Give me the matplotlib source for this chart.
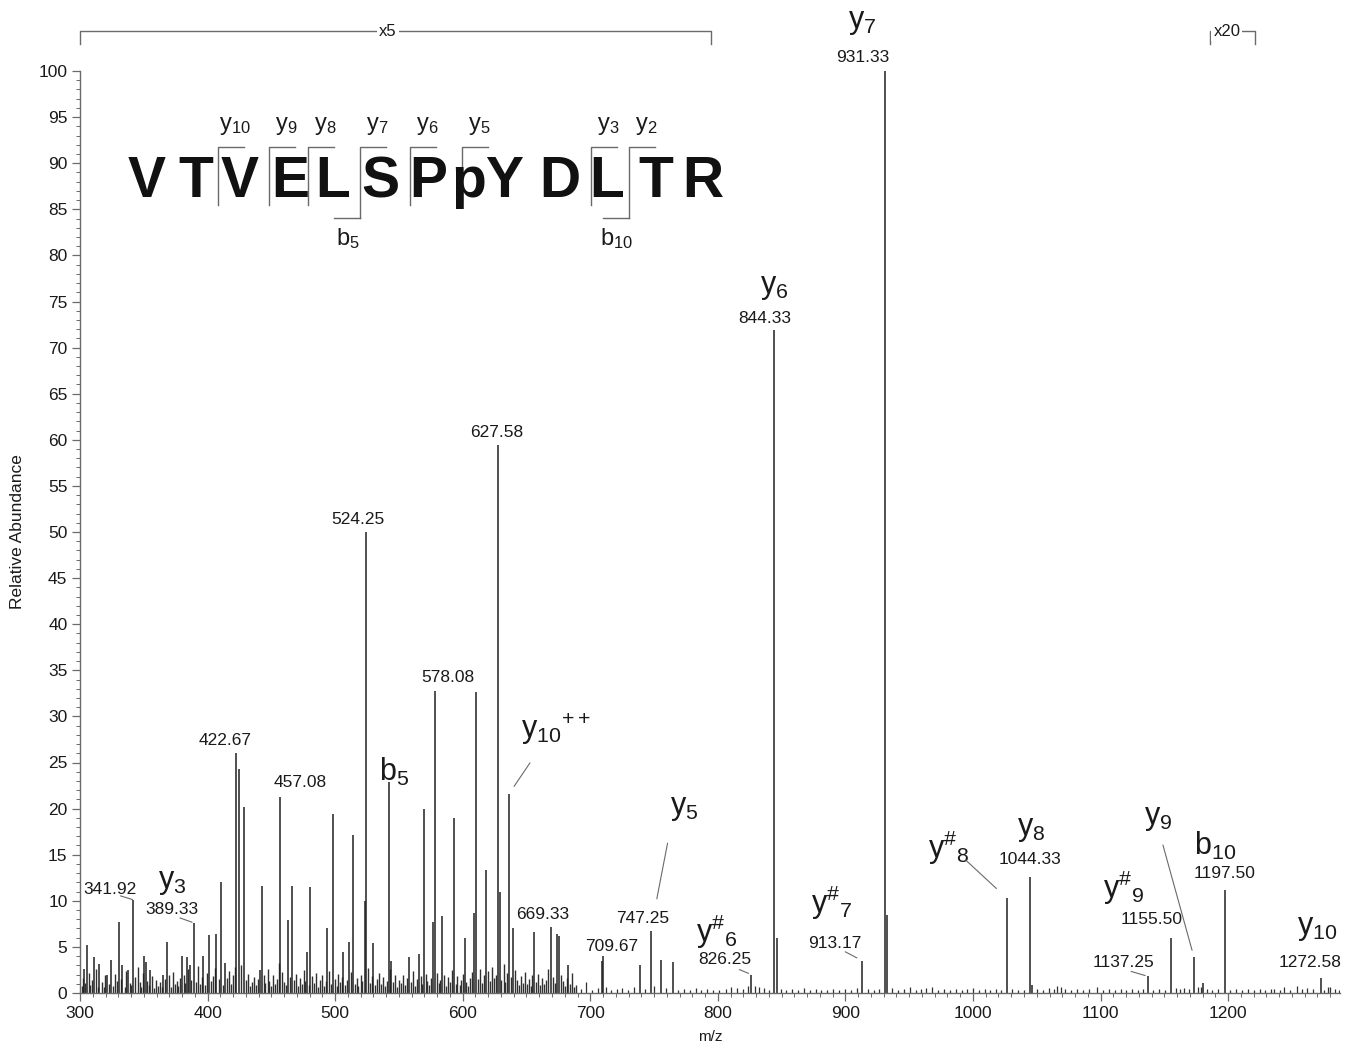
import matplotlib
matplotlib.use("Agg")
import matplotlib.pyplot as plt
from matplotlib.ticker import MultipleLocator

plt.rcParams['font.family'] = ['Liberation Sans', 'DejaVu Sans']
plt.rcParams['mathtext.fontset'] = 'custom'
plt.rcParams['mathtext.rm'] = 'Liberation Sans'
plt.rcParams['mathtext.it'] = 'Liberation Sans'
plt.rcParams['mathtext.bf'] = 'Liberation Sans:bold'

TXT = '#1a1a1a'
GREY = '#6a6a6a'

# ---- spectrum: main peaks (m/z, relative abundance) ----
peak_mz = [303.0, 305.2, 311.0, 315.0, 321.0, 324.0, 330.3, 333.0, 337.6, 341.92,
           350.0, 351.7, 355.0, 365.0, 368.4, 379.7, 383.6, 386.0, 389.33, 396.7,
           401.0, 407.0, 410.3, 413.7, 422.67, 424.9, 428.8, 441.0, 442.4, 457.08,
           462.8, 466.0, 478.0, 480.3, 493.4, 498.0, 506.4, 511.0, 513.7, 523.2,
           524.25, 530.0, 541.9, 544.0, 558.0, 565.5, 569.3, 576.5, 578.08, 583.8,
           592.9, 601.5, 609.1, 610.6, 618.5, 627.58, 628.9, 636.3, 639.3, 656.2,
           669.33, 673.7, 675.5, 682.8, 708.9, 709.67, 738.8, 747.25, 755.7, 764.8,
           826.25, 844.33, 846.0, 913.17, 931.33, 932.5, 1026.4, 1044.33, 1046.0,
           1137.25, 1155.5, 1173.2, 1180.0, 1197.5, 1272.58]
peak_int = [2.6, 5.2, 3.9, 3.1, 2.0, 3.6, 7.7, 3.0, 2.5, 10.1,
            4.0, 3.4, 2.5, 2.0, 5.5, 4.0, 3.9, 3.0, 7.6, 4.0,
            6.3, 6.4, 12.0, 3.3, 26.0, 24.3, 20.2, 2.5, 11.6, 21.3,
            7.9, 11.6, 4.5, 11.5, 7.0, 19.4, 4.4, 5.5, 17.1, 10.0,
            50.0, 5.4, 22.9, 3.5, 3.9, 4.2, 20.0, 7.7, 32.8, 8.3,
            19.0, 6.0, 8.7, 32.6, 13.3, 59.4, 11.0, 21.6, 7.0, 6.6,
            7.2, 6.4, 6.2, 3.0, 3.5, 4.0, 3.0, 6.7, 3.6, 3.4,
            2.0, 71.9, 6.0, 3.5, 100.0, 8.5, 10.3, 12.6, 0.9,
            1.8, 6.0, 3.9, 1.1, 11.2, 1.6]

# ---- low-level signal ----
grass_mz = [301.5, 302.2, 304.1, 306.8, 307.9, 309.3, 312.6, 313.8, 317.2, 318.5,
            319.9, 322.7, 326.1, 327.4, 328.8, 331.9, 335.2, 336.4, 339.0, 340.3,
            343.5, 345.1, 346.7, 348.2, 349.1, 352.9, 354.0, 356.6, 358.1, 359.7,
            361.2, 362.8, 364.0, 366.5, 369.9, 371.4, 372.8, 374.3, 375.9, 377.1,
            378.5, 381.2, 382.4, 385.0, 387.4, 390.8, 392.3, 393.9, 395.4, 398.2,
            399.6, 402.5, 404.0, 405.5, 408.6, 411.8, 415.2, 416.7, 418.3, 419.8,
            421.3, 426.4, 430.5, 432.0, 433.6, 435.1, 436.7, 438.2, 439.6, 443.9,
            445.4, 447.0, 448.5, 450.1, 451.6, 453.2, 454.6, 456.0, 458.6, 460.1,
            461.5, 464.3, 467.6, 469.2, 470.7, 472.3, 473.8, 475.3, 476.7, 479.2,
            481.9, 483.4, 485.0, 486.6, 488.1, 489.6, 491.2, 492.5, 494.8, 496.4,
            499.5, 501.1, 502.6, 504.0, 505.3, 507.8, 509.4, 512.3, 515.2, 516.8,
            518.3, 519.9, 521.4, 525.8, 527.3, 528.7, 531.5, 533.0, 534.6, 536.1,
            537.6, 539.1, 540.5, 543.0, 545.6, 547.1, 548.6, 550.2, 551.7, 553.3,
            554.8, 556.4, 559.5, 561.0, 562.6, 564.0, 567.1, 568.4, 570.9, 572.4,
            573.9, 575.2, 579.6, 581.1, 582.5, 585.3, 586.8, 588.3, 589.9, 591.4,
            594.4, 595.9, 597.5, 599.0, 600.3, 602.9, 604.4, 606.0, 607.5, 612.1,
            613.6, 615.1, 616.7, 620.0, 621.5, 623.1, 624.6, 626.1, 630.4, 632.0,
            633.5, 634.9, 637.7, 640.8, 642.4, 643.9, 645.5, 647.0, 648.5, 650.1,
            651.6, 653.2, 654.7, 657.7, 659.3, 660.8, 662.4, 663.9, 665.5, 667.0,
            670.8, 672.3, 677.0, 678.6, 680.1, 681.5, 684.3, 685.9, 687.4, 689.0]
grass_int = [0.8, 1.6, 1.1, 2.2, 0.9, 1.4, 2.6, 0.7, 1.2, 0.6,
             1.9, 1.0, 0.8, 2.1, 1.3, 1.5, 0.7, 2.4, 1.1, 0.9,
             1.7, 2.8, 1.2, 0.6, 2.2, 1.3, 0.9, 1.8, 0.5, 1.4,
             0.8, 1.2, 0.6, 1.5, 1.9, 0.7, 2.3, 1.0, 1.3, 0.8,
             1.6, 2.0, 1.1, 2.6, 1.4, 1.2, 2.9, 1.0, 1.7, 0.9,
             2.2, 1.3, 1.8, 2.7, 1.5, 0.9, 1.6, 2.4, 1.0, 1.9,
             2.8, 3.0, 1.4, 2.1, 0.8, 1.2, 1.7, 0.9, 1.5, 2.0,
             1.1, 2.6, 1.3, 0.8, 1.9, 1.0, 1.5, 3.2, 2.3, 1.2,
             0.9, 1.7, 1.4, 2.1, 0.8, 1.6, 1.0, 2.5, 1.3, 0.9,
             1.8, 1.1, 2.2, 0.7, 1.4, 1.9, 0.8, 1.3, 2.4, 1.0,
             1.5, 0.8, 2.1, 1.2, 1.7, 0.9, 1.4, 2.3, 1.0, 1.6,
             0.8, 2.0, 1.3, 2.7, 1.1, 1.8, 0.9, 1.5, 2.2, 1.0,
             1.7, 0.8, 1.3, 2.6, 1.2, 1.9, 0.7, 1.4, 1.1, 2.0,
             0.9, 1.6, 1.2, 2.4, 0.8, 1.5, 1.8, 1.0, 2.1, 1.3,
             0.9, 1.6, 2.2, 1.1, 1.4, 2.0, 0.8, 1.7, 1.2, 2.5,
             1.0, 1.8, 0.9, 1.4, 2.1, 1.2, 0.8, 1.6, 2.3, 1.5,
             2.6, 1.1, 1.9, 2.4, 1.3, 2.8, 1.6, 2.0, 1.4, 3.1,
             1.2, 2.2, 1.7, 2.5, 1.4, 0.9, 1.8, 1.1, 2.3, 1.0,
             1.5, 0.8, 1.9, 1.2, 2.1, 0.9, 1.6, 1.0, 1.4, 2.6,
             1.7, 1.1, 2.0, 1.3, 0.8, 1.6, 1.0, 2.2, 0.7, 0.9]
sparse_mz = [692.5, 697.0, 701.3, 705.8, 712.4, 716.0, 720.7, 725.1, 729.6, 733.9,
             742.6, 750.3, 759.0, 768.9, 773.4, 778.0, 782.6, 787.1, 791.5, 796.2,
             801.0, 806.3, 810.2, 815.0, 819.6, 824.0, 829.0, 832.0, 836.5, 840.1,
             849.8, 853.6, 858.0, 862.5, 867.9, 872.0, 876.6, 881.2, 885.7, 890.3,
             895.0, 899.6, 904.0, 908.8, 917.6, 922.1, 926.5, 936.8, 941.2, 945.9,
             950.4, 955.0, 959.5, 963.2, 968.0, 972.7, 977.3, 981.9, 986.4, 991.0,
             995.5, 1000.1, 1004.6, 1009.2, 1013.7, 1018.3, 1022.0, 1030.8, 1035.4, 1040.0,
             1049.9, 1054.5, 1059.5, 1063.2, 1066.0, 1068.7, 1072.5, 1077.0, 1081.6, 1086.2,
             1090.7, 1097.6, 1102.0, 1106.6, 1111.1, 1115.7, 1120.2, 1124.8, 1129.3, 1133.0,
             1141.5, 1145.9, 1150.4, 1158.8, 1162.0, 1165.5, 1169.0, 1176.0, 1178.4, 1183.2,
             1187.0, 1192.0, 1201.8, 1206.3, 1210.9, 1215.4, 1220.0, 1224.6, 1229.1, 1233.7,
             1236.0, 1240.3, 1244.0, 1248.5, 1254.0, 1258.0, 1262.0, 1266.6, 1275.0, 1278.3,
             1279.8, 1283.5, 1286.9]
sparse_int = [0.4, 1.2, 0.3, 0.5, 0.6, 0.3, 0.4, 0.5, 0.3, 0.6,
              0.4, 0.8, 0.5, 0.3, 0.4, 0.3, 0.5, 0.3, 0.4, 0.3,
              0.3, 0.4, 0.7, 0.5, 0.4, 0.8, 0.8, 0.6, 0.5, 0.3,
              0.4, 0.3, 0.4, 0.3, 0.5, 0.3, 0.4, 0.3, 0.3, 0.4,
              0.3, 0.4, 0.3, 0.5, 0.4, 0.3, 0.4, 0.5, 0.3, 0.4,
              0.7, 0.3, 0.4, 0.5, 0.6, 0.3, 0.4, 0.3, 0.4, 0.3,
              0.4, 0.5, 0.3, 0.4, 0.3, 0.4, 0.3, 0.4, 0.3, 0.3,
              0.4, 0.3, 0.5, 0.4, 0.8, 0.6, 0.4, 0.3, 0.4, 0.3,
              0.4, 0.6, 0.3, 0.4, 0.3, 0.4, 0.3, 0.4, 0.3, 0.4,
              0.3, 0.4, 0.3, 0.5, 0.4, 0.5, 0.4, 0.7, 0.6, 0.4,
              0.3, 0.4, 0.3, 0.4, 0.3, 0.4, 0.3, 0.4, 0.3, 0.4,
              0.4, 0.3, 0.7, 0.3, 0.8, 0.4, 0.5, 0.4, 0.3, 0.7,
              0.6, 0.4, 0.3]

# ---- annotations: peak m/z values printed above peaks (offsets in pixels) ----
num_mz = [931.33, 844.33, 627.58, 524.25, 578.08, 422.67, 457.08, 747.25, 669.33,
          709.67, 341.92, 389.33, 826.25, 913.17, 1044.33, 1155.5, 1137.25, 1197.5, 1272.58]
num_dx = [-23, -10, -1, -8, 13, -11, 20, -8, -8, 9, -23, -22, -27, -27, 0, -20, -25, 0, -11]
num_dy = [14, 12, 13, 13, 13, 13, 14, 13, 12, 10, 10, 13, 15, 17, 17, 18, 14, 16, 16]

ion_mz = [931.33, 844.33, 541.9, 636.3, 747.25, 389.33, 826.25, 913.17, 1026.4,
          1044.33, 1155.5, 1173.2, 1197.5, 1272.58]
ion_text = [r'y_{7}', r'y_{6}', r'b_{5}', r'y_{10}{}^{++}', r'y_{5}', r'y_{3}',
            r'y^{\#}{}_{6}', r'y^{\#}{}_{7}', r'y^{\#}{}_{8}', r'y_{8}', r'y^{\#}{}_{9}',
            r'y_{9}', r'b_{10}', r'y_{10}']
ion_dx = [-23, 0, 6, 47, 34, -22, -35, -30, -58, 2, -48, -36, -10, -3]
ion_dy = [49, 43, 10, 65, 123, 41, 43, 58, 50, 48, 50, 139, 44, 50]

# leader lines: start (text side) and end (peak side) offsets in pixels
lead_mz = [636.3, 747.25, 341.92, 389.33, 826.25, 913.17, 1026.4, 1137.25, 1173.2]
lead_x0 = [21, 17, -13, -14, -12, -17, -41, -17, -31]
lead_y0 = [31, 88, 4, 5, 5, 9, 38, 5, 112]
lead_gap = [9, 33, 1, 2, 3, 6, 14, 3, 7]

# ---- peptide sequence with fragment cleavage marks (figure pixels) ----
seq_letters = ['V', 'T', 'V', 'E', 'L', 'S', 'P', 'pY', 'D', 'L', 'T', 'R']
seq_x = [147, 196, 240, 290, 333, 380, 428, 488, 560, 607, 656, 703]
y_cut_names = ['10', '9', '8', '7', '6', '5', '3', '2']
y_cut_x = [218, 269, 308, 360, 410, 462, 591, 629]
b_cut_names = ['5', '10']
b_cut_x = [360, 629]

fig = plt.figure(figsize=(13.48, 10.5), dpi=100)
ax = fig.add_axes([80 / 1348, 1 - 993 / 1050, 1260 / 1348, 922 / 1050])

ax.vlines(grass_mz, 0, grass_int, color='#303030', lw=1.0)
ax.vlines(sparse_mz, 0, sparse_int, color='#303030', lw=0.9)
ax.vlines(peak_mz, 0, peak_int, color='#202020', lw=1.1)

ax.set_xlim(300, 1287.7)
ax.set_ylim(0, 100)
for s in ['top', 'right']:
    ax.spines[s].set_visible(False)
for s in ['left', 'bottom']:
    ax.spines[s].set_color(GREY)
    ax.spines[s].set_linewidth(1.0)
ax.xaxis.set_major_locator(MultipleLocator(100))
ax.xaxis.set_minor_locator(MultipleLocator(10))
ax.yaxis.set_major_locator(MultipleLocator(5))
ax.yaxis.set_minor_locator(MultipleLocator(1))
ax.tick_params(which='major', length=6, width=0.9, color=GREY, labelsize=12.5,
               labelcolor=TXT, pad=3)
ax.tick_params(which='minor', length=3, width=0.7, color=GREY)
ax.set_xlabel('m/z', fontsize=11, color=TXT, labelpad=7)
ax.set_ylabel('Relative Abundance', fontsize=12.5, color=TXT, labelpad=10)

inten = dict(zip(peak_mz, peak_int))

for mz, dx, dy in zip(num_mz, num_dx, num_dy):
    ax.annotate('%.2f' % mz, xy=(mz, inten[mz]), xytext=(dx, dy),
                textcoords='offset pixels', ha='center', va='center',
                fontsize=12.5, color=TXT)

for mz, t, dx, dy in zip(ion_mz, ion_text, ion_dx, ion_dy):
    ax.annotate(r'$\mathregular{' + t + '}$', xy=(mz, inten[mz]), xytext=(dx, dy),
                textcoords='offset pixels', ha='center', va='center',
                fontsize=22, color=TXT)

for mz, x0, y0, g in zip(lead_mz, lead_x0, lead_y0, lead_gap):
    ax.annotate('', xy=(mz, inten[mz]), xytext=(x0, y0), textcoords='offset pixels',
                arrowprops=dict(arrowstyle='-', color=GREY, lw=0.8, shrinkA=0,
                                shrinkB=g * 0.72))

# magnification brackets above the plot
def bracket(x0, x1, label, xt):
    ax.plot([x0, x0, x1, x1], [102.9, 104.3, 104.3, 102.9], color=GREY, lw=1,
            clip_on=False)
    ax.text(xt, 104.3, label, ha='center', va='center', fontsize=12, color=TXT,
            bbox=dict(facecolor='white', edgecolor='none', pad=1.5), clip_on=False)

bracket(300, 794.5, 'x5', 541.5)
bracket(1186, 1221, 'x20', 1199)

# overlay axes in figure pixels for the peptide sequence
ov = fig.add_axes([0, 0, 1, 1])
ov.set_xlim(0, 1348)
ov.set_ylim(1050, 0)
ov.axis('off')
ov.patch.set_alpha(0)

for ch, x in zip(seq_letters, seq_x):
    ov.text(x, 182, ch, ha='center', va='center', fontsize=41, fontweight='bold',
            color='#111111')

for n, x in zip(y_cut_names, y_cut_x):
    bottom = 218 if x in b_cut_x else 205
    ov.plot([x, x, x + 26], [bottom, 147, 147], color=GREY, lw=1)
    ov.text(x + 17, 126, r'$\mathregular{y_{' + n + '}}$', ha='center', va='center',
            fontsize=17, color=TXT)

for n, x in zip(b_cut_names, b_cut_x):
    ov.plot([x - 26, x], [218, 218], color=GREY, lw=1)
    ov.text(x - 12, 239, r'$\mathregular{b_{' + n + '}}$', ha='center', va='center',
            fontsize=17, color=TXT)

fig.savefig('out.png', dpi=100)
